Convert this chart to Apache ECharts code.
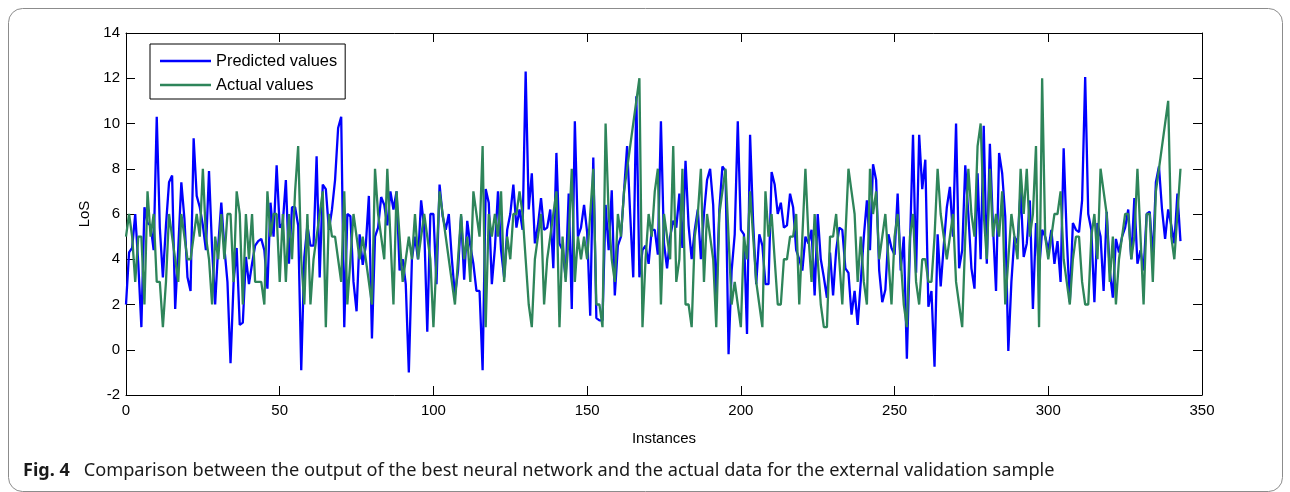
<!DOCTYPE html>
<html><head><meta charset="utf-8">
<script src="https://cdn.jsdelivr.net/npm/echarts@6/dist/echarts.min.js"></script>
<style>html,body{margin:0;padding:0;background:#fff}#c{width:1290px;height:492px}</style>
</head><body><div id="c"></div>
<script>
// Instance index starts at 0
const predicted = [
2.0,4.3,4.5,6.0,3.8,1.0,6.3,5.6,5.5,4.4,
10.3,5.4,3.2,5.5,7.4,7.7,1.8,4.5,7.4,5.8,
3.2,2.6,9.35,6.8,6.3,5.5,4.4,7.9,4.5,2.0,
4.6,6.5,4.5,3.0,-0.6,3.0,4.5,1.1,1.2,4.1,
2.9,3.8,4.6,4.8,4.9,4.4,2.7,6.5,5.0,8.15,
5.4,5.6,7.5,3.8,6.3,6.3,5.5,-0.9,4.1,5.5,
4.6,4.6,8.55,3.2,7.3,7.1,5.3,6.2,7.5,9.8,
10.3,1.0,6.0,5.9,3.0,1.7,5.1,3.75,4.6,6.8,
0.5,5.0,5.4,6.75,6.4,5.5,7.0,6.2,7.0,3.5,
4.0,2.9,-1.0,4.0,5.0,4.0,6.6,5.4,0.8,6.0,
6.0,2.9,7.3,5.9,5.3,6.0,4.0,2.4,3.5,5.9,
3.1,5.7,4.6,3.8,2.6,2.6,-0.9,7.1,6.5,2.9,
4.5,7.0,4.4,3.2,5.3,6.0,7.3,5.4,6.2,5.3,
12.3,6.2,7.8,4.7,5.5,6.7,5.3,5.4,6.2,3.6,
8.7,4.7,4.4,3.2,6.9,1.8,10.1,5.0,5.4,6.4,
5.2,1.5,8.5,1.4,1.3,1.3,6.4,4.4,7.05,2.4,
4.6,5.0,7.0,9.0,6.0,3.2,11.2,3.2,4.4,4.6,
3.8,5.3,5.3,4.2,10.1,4.7,3.6,5.0,5.7,5.4,
6.9,4.5,8.35,5.5,4.0,5.3,6.2,4.0,6.0,7.5,
8.0,6.4,2.3,6.2,8.1,7.9,-0.2,3.5,5.1,10.1,
5.3,5.1,0.7,9.5,5.6,2.9,5.1,4.6,2.9,2.9,
7.85,7.3,6.0,6.5,5.4,5.5,6.9,6.3,4.4,4.0,
3.5,5.0,4.7,5.3,2.4,6.0,4.0,3.2,2.3,4.3,
2.4,4.4,5.4,5.3,3.6,3.4,1.55,2.6,1.1,3.0,
5.0,6.6,4.4,8.2,7.5,3.5,2.1,2.65,5.1,4.5,
4.2,6.9,3.5,5.0,-0.4,4.6,9.5,3.4,9.5,7.1,
8.4,1.9,2.6,-0.75,5.1,2.8,4.6,6.3,7.2,5.0,
10.0,3.6,4.4,8.15,6.0,3.6,2.7,7.8,4.0,9.9,
3.8,9.1,5.5,2.6,8.7,7.8,5.9,-0.05,3.0,5.0,
4.7,7.05,4.1,4.7,6.6,1.8,5.6,3.5,5.3,5.0,
4.4,5.3,3.8,4.8,3.0,8.9,5.0,2.1,5.6,5.3,
5.2,6.6,12.05,6.0,5.3,2.1,5.6,5.0,2.6,6.1,
3.5,2.3,4.9,4.3,5.0,5.4,6.2,4.0,6.7,3.8,
4.4,3.5,6.0,6.1,4.0,7.4,8.1,6.2,4.9,6.2,
5.5,4.7,6.9,4.8
];
const actual = [
5,6,5,3,5,5,2,7,5,6,
3,3,1,3,6,5,4,3,6,5,
4,4,5,6,5,8,5,4,2,5,
4,6,4,6,6,3,7,6,2,6,
4,6,3,3,3,2,7,5,6,6,
3,6,3,6,4,7,9,4,2,6,
2,4,5,6,7,1,6,5,5,4,
3,7,2,4,6,5,4,5,4,3,
2,8,6,5,4,8,5,2,7,5,
3,4,5,4,6,4,5,6,5,4,
1,4,7,6,5,4,3,2,4,6,
4,5,3,7,6,5,9,1,6,5,
6,5,7,3,5,4,6,6,7,6,
4,2,1,4,5,6,2,4,5,6,
7,1,5,3,5,8,3,5,4,5,
4,6,8,2,2,1,10,6,4,3,
6,5,7,8,9,10,11,12,1,4,
6,5,7,8,2,6,5,4,9,3,
4,8,2,2,1,5,6,8,3,6,
5,4,1,6,7,8,5,2,3,2,
1,5,4,7,5,3,2,1,7,5,
6,4,2,2,4,4,5,5,6,2,
5,8,5,3,6,4,2,1,1,5,
5,6,4,2,5,8,7,6,3,5,
3,2,8,6,7,4,5,6,4,2,
5,6,4,2,1,5,6,3,2,4,
4,3,3,5,8,6,5,4,5,6,
3,2,1,5,8,6,5,9,10,6,
4,8,5,6,5,7,2,4,6,5,
4,8,6,8,5,6,9,1,12,5,
4,5,6,6,7,4,3,2,4,5,
5,3,2,2,5,6,4,8,7,6,
3,5,2,4,5,6,6,4,5,8,
5,2,6,6,3,7,8,9,10,11,
5,4,6,8
];
const seriesNames = ['Predicted values', 'Actual values'];
const xTickLabels = [0, 50, 100, 150, 200, 250, 300, 350];
const yTickLabels = [-2, 0, 2, 4, 6, 8, 10, 12, 14];
const captionBold = 'Fig. 4';
const captionText = 'Comparison between the output of the best neural network and the actual data for the external validation sample';

const toXY = arr => arr.map((v, i) => [i, v]);
const FONT = 'Liberation Sans';
const chart = echarts.init(document.getElementById('c'), null, {renderer: 'canvas'});
const axisCommon = {
  type: 'value',
  axisLine: {show: true, onZero: false, lineStyle: {color: '#000', width: 1}},
  axisTick: {show: true, inside: true, length: 9, lineStyle: {color: '#000', width: 1}},
  splitLine: {show: false}
};
const xMin = xTickLabels[0], xMax = xTickLabels[xTickLabels.length - 1], xInt = xTickLabels[1] - xTickLabels[0];
const yMin = yTickLabels[0], yMax = yTickLabels[yTickLabels.length - 1], yInt = yTickLabels[1] - yTickLabels[0];
chart.setOption({
  animation: false,
  backgroundColor: '#fff',
  grid: {left: 126, top: 33, width: 1076, height: 362, containLabel: false, outerBoundsMode: 'none'},
  legend: {
    orient: 'vertical', left: 150, top: 44,
    data: seriesNames,
    icon: 'rect', itemWidth: 51, itemHeight: 2.5, itemGap: 8,
    padding: [9, 8, 6, 10],
    backgroundColor: '#fff', borderColor: '#000', borderWidth: 1, borderRadius: 0,
    textStyle: {fontFamily: FONT, fontSize: 16.4, color: '#000', lineHeight: 16},
    selectedMode: false
  },
  xAxis: [
    Object.assign({}, axisCommon, {
      position: 'bottom', min: xMin, max: xMax, interval: xInt,
      axisLabel: {margin: 8, color: '#000', fontSize: 15, fontFamily: FONT},
      name: 'Instances', nameLocation: 'middle', nameGap: 36,
      nameTextStyle: {color: '#000', fontSize: 15, fontFamily: FONT}
    }),
    Object.assign({}, axisCommon, {
      position: 'top', min: xMin, max: xMax, interval: xInt,
      axisLabel: {show: false}
    })
  ],
  yAxis: [
    Object.assign({}, axisCommon, {
      position: 'left', min: yMin, max: yMax, interval: yInt,
      axisLabel: {margin: 6, color: '#000', fontSize: 15, fontFamily: FONT},
      name: 'LoS', nameLocation: 'middle', nameGap: 20,
      nameTextStyle: {color: '#000', fontSize: 15, fontFamily: FONT}
    }),
    Object.assign({}, axisCommon, {
      position: 'right', min: yMin, max: yMax, interval: yInt,
      axisLabel: {show: false}
    })
  ],
  series: [
    {name: seriesNames[0], type: 'line', data: toXY(predicted), showSymbol: false, symbol: 'none',
     lineStyle: {color: '#0000ff', width: 2.3}, itemStyle: {color: '#0000ff'}, clip: true},
    {name: seriesNames[1], type: 'line', data: toXY(actual), showSymbol: false, symbol: 'none',
     lineStyle: {color: '#2e855a', width: 2.3}, itemStyle: {color: '#2e855a'}, clip: true}
  ],
  graphic: [
    {type: 'rect', silent: true, z: -1,
     shape: {x: 8.5, y: 8.5, width: 1274, height: 483, r: 14},
     style: {fill: 'none', stroke: '#8c8c8c', lineWidth: 1}},
    {type: 'text', left: 23, top: 462, silent: true,
     style: {
       text: '{b|' + captionBold + '}{n|' + captionText + '}',
       rich: {
         b: {fontFamily: 'Noto Sans', fontWeight: 'bold', fontSize: 18, fill: '#1a1a1a', padding: [0, 14, 0, 0]},
         n: {fontFamily: 'Noto Sans', fontSize: 18.2, fill: '#1a1a1a'}
       }
     }}
  ]
});
</script></body></html>
